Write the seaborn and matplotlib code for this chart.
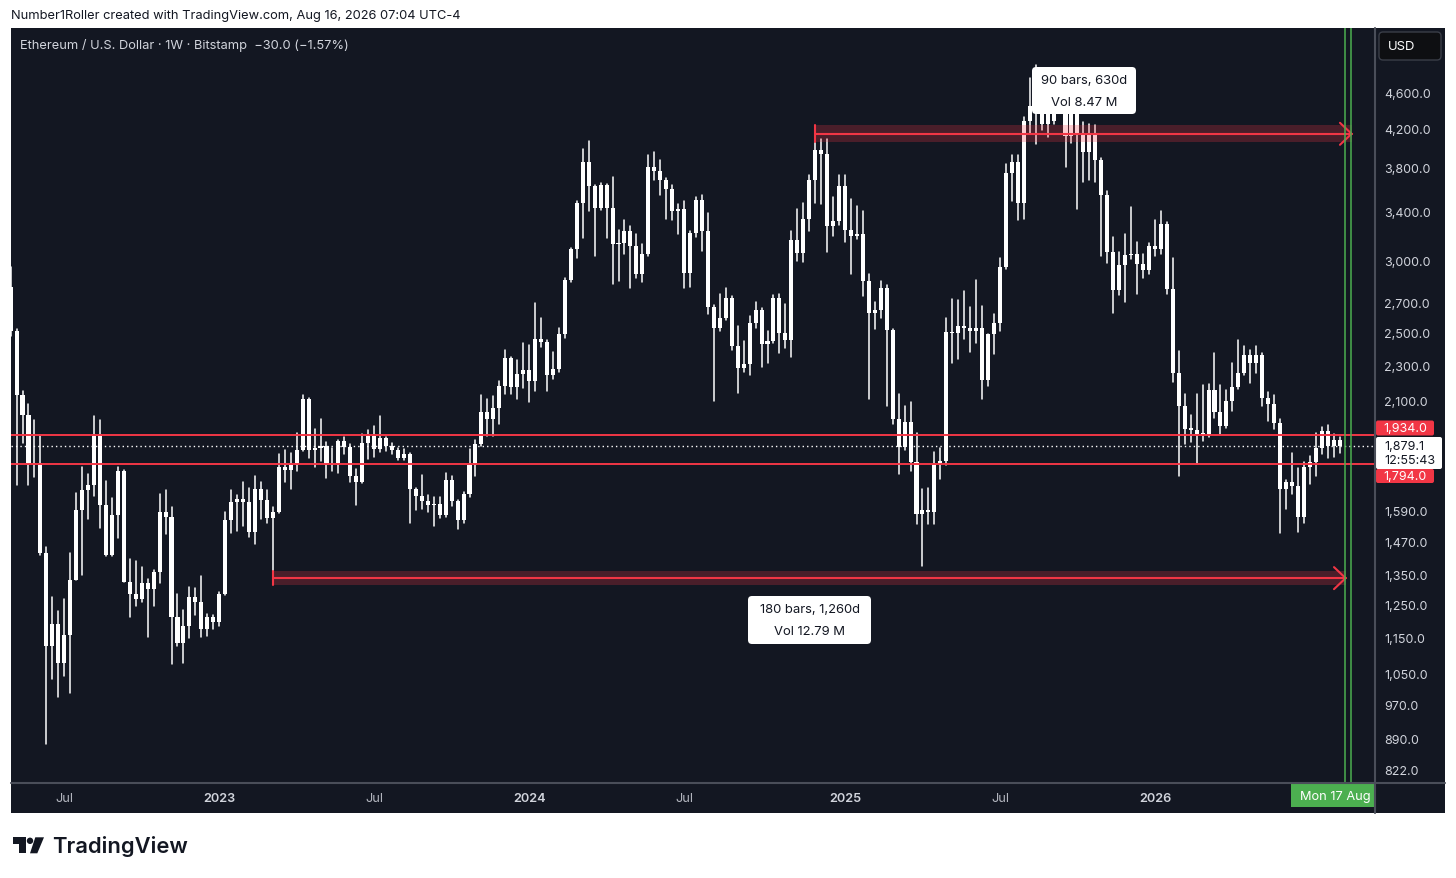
import numpy as np
import pandas as pd
import matplotlib
matplotlib.use("Agg")
import matplotlib.pyplot as plt
import seaborn as sns
from matplotlib.patches import Rectangle, FancyBboxPatch, Polygon, Circle
from matplotlib.ticker import NullLocator
from matplotlib.transforms import blended_transform_factory

# ETH/USD weekly candles (Bitstamp), first bar = week of 2 May 2022
OPENS = [
    2819, 2520, 2140, 2036, 1795, 1798, 1430, 1130, 1194, 1082,
    1163, 1338, 1596, 1680, 1700, 1940, 1616, 1425, 1578, 1763,
    1331, 1290, 1273, 1325, 1305, 1364, 1589, 1570, 1218, 1140,
    1188, 1280, 1264, 1180, 1218, 1200, 1290, 1558, 1629, 1642,
    1630, 1512, 1683, 1640, 1565, 1590, 1783, 1767, 1792, 1860,
    2118, 1860, 1870, 1880, 1792, 1800, 1903, 1877, 1740, 1716,
    1893, 1930, 1864, 1919, 1882, 1860, 1825, 1840, 1683, 1655,
    1635, 1616, 1622, 1578, 1722, 1635, 1558, 1665, 1792, 1887,
    2050, 2015, 2068, 2190, 2352, 2185, 2260, 2280, 2218, 2465,
    2450, 2253, 2285, 2500, 2867, 3100, 3488, 3870, 3640, 3440,
    3650, 3440, 3140, 3150, 3245, 3125, 2910, 3065, 3826, 3780,
    3695, 3616, 3418, 3435, 2918, 3235, 3515, 3250, 2680, 2540,
    2604, 2737, 2426, 2294, 2313, 2568, 2660, 2436, 2456, 2737,
    2505, 2460, 3175, 3068, 3350, 3700, 3990, 3950, 3290, 3330,
    3640, 3256, 3210, 3225, 2862, 2637, 2660, 2808, 2522, 2015,
    1874, 2000, 1806, 1580, 1596, 1590, 1794, 1809, 2513, 2503,
    2548, 2540, 2517, 2540, 2222, 2500, 2570, 2965, 3765, 3869,
    3490, 4300, 4470, 4780, 4265, 4300, 4610, 4460, 4140, 4510,
    4150, 3970, 4158, 3888, 3560, 3080, 2795, 2980, 3055, 3063,
    2990, 2940, 3130, 3100, 3310, 2805, 2262, 2080, 1962, 1960,
    1940, 1935, 2170, 2048, 1976, 2107, 2185, 2262, 2372, 2323,
    2372, 2125, 2092, 1995, 1683, 1715, 1697, 1570, 1781, 1806,
    1870, 1952, 1880, 1909.1,
]
HIGHS = [
    2964, 2530, 2160, 2090, 2010, 1929, 1454, 1280, 1236, 1272,
    1432, 1666, 1784, 1750, 2030, 2010, 1718, 1647, 1781, 1770,
    1410, 1404, 1382, 1341, 1370, 1662, 1680, 1608, 1290, 1237,
    1312, 1310, 1352, 1225, 1222, 1295, 1590, 1680, 1660, 1713,
    1690, 1740, 1716, 1680, 1608, 1844, 1860, 1848, 1941, 2142,
    2125, 1962, 2013, 1900, 1870, 1910, 1925, 1890, 1772, 1936,
    1959, 1979, 2030, 1925, 1895, 1870, 1865, 1845, 1690, 1745,
    1660, 1650, 1650, 1754, 1740, 1640, 1670, 1864, 1910, 2140,
    2116, 2133, 2215, 2402, 2360, 2340, 2440, 2430, 2708, 2604,
    2460, 2390, 2535, 2880, 3110, 3505, 4000, 4088, 3650, 3672,
    3660, 3727, 3260, 3343, 3290, 3220, 3140, 3940, 3970, 3895,
    3720, 3650, 3480, 3505, 3250, 3545, 3560, 3400, 2690, 2770,
    2808, 2750, 2548, 2456, 2620, 2712, 2670, 2517, 2760, 2770,
    2700, 3250, 3435, 3490, 3743, 4095, 4110, 4105, 3545, 3743,
    3743, 3525, 3460, 3420, 2910, 2712, 2862, 2830, 2530, 2147,
    2081, 2100, 1945, 1686, 1690, 1851, 1870, 2604, 2733, 2725,
    2790, 2680, 2867, 2685, 2500, 2627, 3034, 3850, 3940, 3940,
    4340, 4790, 4950, 4790, 4490, 4770, 4770, 4480, 4600, 4750,
    4284, 4260, 4250, 3910, 3600, 3200, 3080, 3220, 3450, 3160,
    3066, 3150, 3339, 3415, 3320, 3032, 2391, 2147, 2035, 2147,
    2197, 2203, 2382, 2197, 2168, 2324, 2460, 2425, 2400, 2425,
    2380, 2158, 2142, 2013, 1722, 1848, 1777, 1806, 1834, 1941,
    1975, 1985, 1936, 1925,
]
LOWS = [
    2490, 1700, 1893, 1700, 1735, 1425, 881, 1040, 993, 1046,
    1002, 1335, 1355, 1563, 1657, 1527, 1420, 1420, 1488, 1329,
    1218, 1252, 1264, 1155, 1252, 1325, 1504, 1079, 1130, 1082,
    1153, 1222, 1155, 1160, 1180, 1190, 1286, 1505, 1516, 1534,
    1490, 1466, 1560, 1545, 1345, 1585, 1713, 1686, 1763, 1855,
    1825, 1783, 1808, 1733, 1763, 1754, 1840, 1716, 1619, 1710,
    1818, 1830, 1850, 1855, 1840, 1815, 1815, 1545, 1597, 1600,
    1590, 1534, 1565, 1570, 1612, 1520, 1545, 1650, 1740, 1880,
    1930, 1930, 1990, 2147, 2147, 2118, 2176, 2100, 2162, 2416,
    2162, 2228, 2270, 2472, 2850, 3034, 3190, 3418, 3052, 3425,
    3190, 2838, 2862, 3066, 2810, 2880, 2855, 3050, 3695, 3560,
    3350, 3343, 3220, 2810, 2820, 3200, 3090, 2633, 2110, 2517,
    2590, 2398, 2152, 2270, 2253, 2540, 2300, 2320, 2440, 2380,
    2410, 2355, 3013, 3000, 3250, 3490, 3480, 3080, 3206, 3300,
    3157, 2910, 3180, 2750, 2116, 2534, 2604, 2081, 1990, 1752,
    1860, 1763, 1540, 1386, 1540, 1540, 1730, 1790, 2320, 2346,
    2465, 2390, 2440, 2118, 2190, 2376, 2517, 2950, 3509, 3340,
    3350, 4158, 4058, 4200, 4122, 4260, 4450, 3826, 4068, 3433,
    3680, 3700, 3680, 3052, 2998, 2637, 2760, 2715, 3025, 2770,
    2882, 2910, 3052, 3065, 2770, 2213, 1742, 1891, 1898, 1795,
    1906, 1925, 2020, 1940, 1970, 2053, 2174, 2250, 2207, 2262,
    2083, 2003, 1962, 1508, 1600, 1664, 1510, 1545, 1708, 1742,
    1840, 1825, 1830, 1848,
]
CLOSES = [
    2520, 2140, 2036, 1795, 1798, 1430, 1130, 1194, 1082, 1163,
    1338, 1596, 1680, 1700, 1940, 1616, 1425, 1578, 1763, 1331,
    1290, 1273, 1325, 1305, 1364, 1589, 1570, 1218, 1140, 1188,
    1280, 1264, 1180, 1218, 1200, 1290, 1558, 1629, 1642, 1630,
    1512, 1683, 1640, 1565, 1590, 1783, 1767, 1792, 1860, 2118,
    1860, 1870, 1880, 1792, 1800, 1903, 1877, 1740, 1716, 1893,
    1930, 1864, 1919, 1882, 1860, 1825, 1840, 1683, 1655, 1635,
    1616, 1622, 1578, 1722, 1635, 1558, 1665, 1792, 1887, 2050,
    2015, 2068, 2190, 2352, 2185, 2260, 2280, 2218, 2465, 2450,
    2253, 2285, 2500, 2867, 3100, 3488, 3870, 3640, 3440, 3650,
    3440, 3140, 3150, 3245, 3125, 2910, 3065, 3826, 3780, 3695,
    3616, 3418, 3435, 2918, 3235, 3515, 3250, 2680, 2540, 2604,
    2737, 2426, 2294, 2313, 2568, 2660, 2436, 2456, 2737, 2505,
    2460, 3175, 3068, 3350, 3700, 3990, 3950, 3290, 3330, 3640,
    3256, 3210, 3225, 2862, 2637, 2660, 2808, 2522, 2015, 1874,
    2000, 1806, 1580, 1596, 1590, 1794, 1809, 2513, 2503, 2548,
    2540, 2517, 2540, 2222, 2500, 2570, 2965, 3765, 3869, 3490,
    4300, 4470, 4780, 4265, 4390, 4610, 4460, 4140, 4510, 4150,
    3970, 4158, 3888, 3560, 3080, 2795, 2980, 3055, 3063, 2990,
    2940, 3130, 3100, 3310, 2805, 2262, 2080, 1962, 1960, 1940,
    1935, 2170, 2048, 1976, 2107, 2185, 2262, 2372, 2323, 2372,
    2125, 2092, 1995, 1683, 1715, 1697, 1570, 1781, 1806, 1870,
    1952, 1880, 1909, 1879.1,
]

PRICE_TICKS = [4600, 4200, 3800, 3400, 3000, 2700, 2500, 2300, 2100,
               1590, 1470, 1350, 1250, 1150, 1050, 970, 890, 822]
TIME_TICKS = [9, 35, 61, 87, 113, 140, 166, 192]
TIME_LABELS = ["Jul", "2023", "Jul", "2024", "Jul", "2025", "Jul", "2026"]

RESISTANCE = 1934.0
SUPPORT = 1794.0
LAST_PRICE = 1879.1

# date range tools: start bar, end bar, band low, line, band high
RANGE_TOP = (135, 225, 4074, 4160, 4250)
RANGE_LOW = (44, 224, 1320, 1343, 1366)

W, H = 1456, 879
BG = "#131722"
RED = "#f23645"
GREEN = "#4caf50"
TXT = "#d1d4dc"


def px_rect(x, y, w, h):
    return [x / W, 1 - (y + h) / H, w / W, h / H]


sns.set_theme(style="dark")
plt.rcParams["font.family"] = ["Inter", "DejaVu Sans"]

fig = plt.figure(figsize=(W / 100, H / 100), dpi=100, facecolor="white")

# background panel (pixel space)
bg = fig.add_axes([0, 0, 1, 1], zorder=0)
bg.set_xlim(0, W)
bg.set_ylim(H, 0)
bg.axis("off")
bg.add_patch(Rectangle((11, 29.3), 1434, 784.7, color=BG, lw=0))

# main price pane
ax = fig.add_axes(px_rect(11, 29.3, 1364, 755.2), zorder=1)
ax.set_facecolor(BG)
weeks = np.arange(len(OPENS))
opens = np.array(OPENS, dtype=float)
closes = np.array(CLOSES, dtype=float)
body_lo = np.minimum(opens, closes)
body_hi = np.maximum(np.maximum(opens, closes), body_lo * 1.004)

wicks = pd.DataFrame({
    "week": np.repeat(weeks, 2),
    "price": np.column_stack([LOWS, HIGHS]).ravel(),
})
sns.lineplot(data=wicks, x="week", y="price", units="week", estimator=None,
             color="white", linewidth=1.1, ax=ax, legend=False, zorder=2)
ax.bar(weeks, body_hi - body_lo, bottom=body_lo, width=0.68,
       color="white", linewidth=0, zorder=3)

ax.set_yscale("log")
ax.set_ylim(796.4, 5441)
ax.set_xlim(0.067, 228.93)
ax.set_xticks([])
ax.set_yticks([])
ax.yaxis.set_minor_locator(NullLocator())
ax.set_xlabel("")
ax.set_ylabel("")
for s in ax.spines.values():
    s.set_visible(False)

# support / resistance and last price
ax.axhline(RESISTANCE, color=RED, lw=1.4, zorder=5)
ax.axhline(SUPPORT, color=RED, lw=1.4, zorder=5)
ax.axhline(LAST_PRICE, color="white", lw=1.0, ls=(0, (1, 2.2)), zorder=5)

# date range measurements
for i0, i1, lo, mid, hi in (RANGE_TOP, RANGE_LOW):
    ax.fill_between([i0, i1], lo, hi, color=RED, alpha=0.25, lw=0, zorder=4)
    ax.plot([i0, i1], [mid, mid], color=RED, lw=1.5, zorder=6)
    ax.plot([i0, i0], [lo, hi], color=RED, lw=1.5, zorder=6)
    ax.plot([i1 - 1.95, i1, i1 - 1.95], [mid * 1.0284, mid, mid / 1.0284],
            color=RED, lw=1.5, zorder=6, solid_joinstyle="miter")

# green vertical markers
for gx in (223.95, 224.95):
    ax.axvline(gx, color=GREEN, lw=1.1, zorder=7)

# price scale labels
ptrans = blended_transform_factory(ax.transAxes, ax.transData)
for p in PRICE_TICKS:
    ax.text(1.0066, p, f"{p:,.1f}", transform=ptrans, ha="left", va="center",
            fontsize=9.0, color=TXT, clip_on=False)

# time axis strip
ta = fig.add_axes(px_rect(11, 784.5, 1364, 29.5), zorder=1)
ta.set_xlim(ax.get_xlim())
ta.set_ylim(0, 1)
ta.axis("off")
for pos, lab in zip(TIME_TICKS, TIME_LABELS):
    year = lab.isdigit()
    ta.text(pos, 0.5, lab, ha="center", va="center", fontsize=9.2,
            color=TXT if year else "#b2b5be",
            fontweight="semibold" if year else "normal")
ta.add_patch(Rectangle((214.8, 0.2), 20, 0.8, color=GREEN, lw=0))
ta.text(216.3, 0.58, "Mon 17 Aug '26", ha="left", va="center",
        fontsize=9.2, color="white", clip_on=True)

# overlay: header, labels, logo
ov = fig.add_axes([0, 0, 1, 1], zorder=3)
ov.set_xlim(0, W)
ov.set_ylim(H, 0)
ov.axis("off")
ov.patch.set_alpha(0)

ov.plot([11, 1445], [784.5, 784.5], color="#4a4e59", lw=1.5)
ov.plot([1375, 1375], [29.3, 814], color="#4a4e59", lw=1.5)

ov.text(11, 16, "Number1Roller created with TradingView.com, Aug 16, 2026 07:04 UTC-4",
        ha="left", va="center", fontsize=9.25, color="#131722")
ov.text(20, 46, "Ethereum / U.S. Dollar \u00b7 1W \u00b7 Bitstamp  \u221230.0 (\u22121.57%)",
        ha="left", va="center", fontsize=9.25, color=TXT)

ov.add_patch(FancyBboxPatch((1379, 33), 62, 28, boxstyle="round,pad=0,rounding_size=4",
                            fc="#0e0f12", ec="#3a3e48", lw=1))
ov.text(1388, 47, "USD", ha="left", va="center", fontsize=9.4, color="white")

# range info boxes
for (bx, by, bw, bh, l1, l2) in ((1032, 68, 104, 47, "90 bars, 630d", "Vol 8.47 M"),
                                 (748, 597, 123, 48, "180 bars, 1,260d", "Vol 12.79 M")):
    ov.add_patch(FancyBboxPatch((bx, by), bw, bh, boxstyle="round,pad=0,rounding_size=4",
                                fc="white", ec="none"))
    ov.text(bx + bw / 2, by + 13, l1, ha="center", va="center", fontsize=9.4, color="#131722")
    ov.text(bx + bw / 2, by + 35, l2, ha="center", va="center", fontsize=9.4, color="#131722")

# price scale badges
ov.add_patch(FancyBboxPatch((1376, 421.5), 58, 15, boxstyle="round,pad=0,rounding_size=2",
                            fc=RED, ec="none"))
ov.text(1405, 429, f"{RESISTANCE:,.1f}", ha="center", va="center", fontsize=9.0, color="white")
ov.add_patch(FancyBboxPatch((1376, 438), 66, 32, boxstyle="round,pad=0,rounding_size=2",
                            fc="white", ec="none"))
ov.text(1384, 447, f"{LAST_PRICE:,.1f}", ha="left", va="center", fontsize=9.0, color="#131722")
ov.text(1384, 461, "12:55:43", ha="left", va="center", fontsize=9.0, color="#131722")
ov.add_patch(FancyBboxPatch((1376, 470), 58, 14, boxstyle="round,pad=0,rounding_size=2",
                            fc=RED, ec="none"))
ov.text(1405, 477.5, f"{SUPPORT:,.1f}", ha="center", va="center", fontsize=9.0, color="white")

# TradingView logo
ink = "#131722"
ov.add_patch(Polygon([(12.7, 838.3), (26, 838.3), (26, 854.3), (19.3, 854.3),
                      (19.3, 845), (12.7, 845)], closed=True, fc=ink, ec="none"))
ov.add_patch(Circle((30, 841.8), 3.2, fc=ink, ec="none"))
ov.add_patch(Polygon([(35.3, 838.3), (44, 838.3), (37.3, 854.3), (30, 854.3)],
                     closed=True, fc=ink, ec="none"))
ov.text(52, 847, "TradingView", ha="left", va="center", fontsize=15.8,
        fontweight="semibold", color=ink)

fig.savefig("out.png", dpi=100, facecolor="white")
